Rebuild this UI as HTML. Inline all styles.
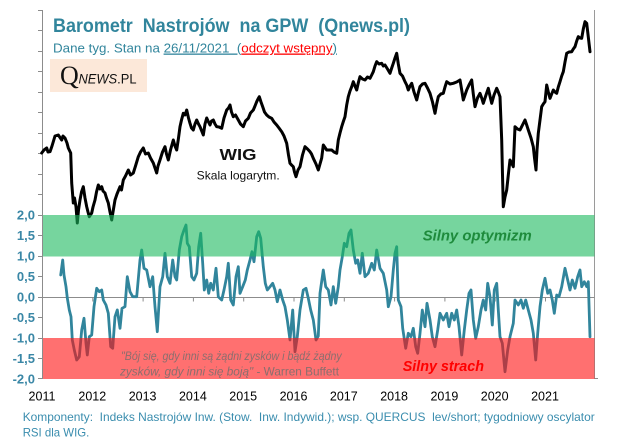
<!DOCTYPE html>
<html><head><meta charset="utf-8"><style>
html,body{margin:0;padding:0;background:#fff;}
svg{display:block;}
text{white-space:pre;}
</style></head><body>
<svg width="626" height="444" viewBox="0 0 626 444" xmlns="http://www.w3.org/2000/svg">
<rect width="626" height="444" fill="#fff"/>
<!-- axes -->
<line x1="42.5" y1="10" x2="42.5" y2="379" stroke="#8c8c8c" stroke-width="1"/>
<line x1="594.5" y1="10" x2="594.5" y2="379" stroke="#9a9a9a" stroke-width="1"/>
<g stroke="#8c8c8c" stroke-width="1">
<line x1="38" y1="10.5" x2="42.5" y2="10.5"/><line x1="38" y1="30.5" x2="42.5" y2="30.5"/>
<line x1="38" y1="51.5" x2="42.5" y2="51.5"/><line x1="38" y1="71.5" x2="42.5" y2="71.5"/>
<line x1="38" y1="92.5" x2="42.5" y2="92.5"/><line x1="38" y1="112.5" x2="42.5" y2="112.5"/>
<line x1="38" y1="133.5" x2="42.5" y2="133.5"/><line x1="38" y1="153.5" x2="42.5" y2="153.5"/>
<line x1="38" y1="174.5" x2="42.5" y2="174.5"/><line x1="38" y1="194.5" x2="42.5" y2="194.5"/>
<line x1="38" y1="215.5" x2="42.5" y2="215.5"/><line x1="38" y1="235.5" x2="42.5" y2="235.5"/>
<line x1="38" y1="256.5" x2="42.5" y2="256.5"/><line x1="38" y1="276.5" x2="42.5" y2="276.5"/>
<line x1="38" y1="297.5" x2="42.5" y2="297.5"/><line x1="38" y1="317.5" x2="42.5" y2="317.5"/>
<line x1="38" y1="338.5" x2="42.5" y2="338.5"/><line x1="38" y1="358.5" x2="42.5" y2="358.5"/>
<line x1="38" y1="378.5" x2="42.5" y2="378.5"/>
<line x1="594.5" y1="378.5" x2="598" y2="378.5"/>
</g>
<line x1="42.5" y1="297.5" x2="594.5" y2="297.5" stroke="#8c8c8c" stroke-width="1"/>
<g stroke="#8c8c8c" stroke-width="1">
<line x1="92.8" y1="297.5" x2="92.8" y2="301.5"/><line x1="143.1" y1="297.5" x2="143.1" y2="301.5"/>
<line x1="193.4" y1="297.5" x2="193.4" y2="301.5"/><line x1="243.7" y1="297.5" x2="243.7" y2="301.5"/>
<line x1="294" y1="297.5" x2="294" y2="301.5"/><line x1="344.3" y1="297.5" x2="344.3" y2="301.5"/>
<line x1="394.6" y1="297.5" x2="394.6" y2="301.5"/><line x1="444.9" y1="297.5" x2="444.9" y2="301.5"/>
<line x1="495.2" y1="297.5" x2="495.2" y2="301.5"/><line x1="545.5" y1="297.5" x2="545.5" y2="301.5"/>
</g>

<!-- WIG -->
<polyline fill="none" stroke="#000" stroke-width="3" stroke-linejoin="round" stroke-linecap="round" points="41.7,153 44,150 46.7,148 48,152 50,151.7 52,146 55,136 58.3,135 61.7,140 63,136 65,138 67,143 68.3,148 70.7,153 71.7,183 73.3,203 74.5,198 76,206.7 77.3,223 78.5,210 80,200 81.5,192 83.3,186.7 85,198 86.7,206.7 88,212 89.3,216.7 91.7,213 93,207 95,200 96.5,192 98.3,185 100,189 101.7,186.7 103,191 105,193 106.5,198 108.3,203 110,212 111.7,220 113,212 115,200 117,194 120,186.7 121.5,190 123.3,180 125.5,176 128.3,170 130.5,175 133.3,173 135.5,166 138.3,156.7 140.5,152 143.3,148 145.5,154 148.3,153 150.5,158 153.3,163 155,168 156.7,173 158,166 160,160 162.5,152 165,146.7 166.5,154 168.3,160 170.5,150 173.3,140 175,146 176.7,150 178.5,138 180,126.7 181.5,120 183.3,113.3 185,115 186.7,110 188.5,118 190,123.3 191.5,128 193.3,130 195,124 196.7,120 198.5,124 200,126.7 201.7,131 203.3,135 205,124 206.7,118 208.5,122 210,125 211.5,121 213.3,120 215,124 216.7,126.7 219,127 221.7,128.3 224,118 226.7,110 228.5,108 230,105 231.5,112 233.3,116.7 235.5,115 238.3,120 240.5,124 243.3,126.7 245.5,121 248.3,118.3 250.5,113 253.3,110 255,106 256.7,101.7 258,99 259.3,96.7 261,102 262.7,106.7 264.5,112 266.7,115 269,117 271.7,118.3 274,122 276.7,125 279,128 281.7,131.7 284,136 286.7,143.3 288.5,155 290,163.3 291.5,165 293.3,166.7 294.5,172 296,176.7 298,170 300,166.7 302.5,155 305,146.7 307.5,149 310,151.7 311.5,154 313.3,158.3 316,164 318.3,170 321.7,158 323.3,145 326.7,150 331.7,150 334,152 336.7,153.3 338.3,140 340,133 341.7,126.7 343.5,121 345,116.7 346.7,105 348.3,96.7 350,91 351.7,86.7 353.3,81.7 355,86 356.7,90 358.5,82 360,76.7 362.5,79 365,80 367.5,77 370,78.3 371.7,75 373.3,71.7 375,66 376.7,61.7 379,64 381.7,63.3 383.3,66 385,65 387.5,69 390,73.3 391.7,68 393.3,63.3 395,58 396.7,53.3 398.3,64 400,73.3 402.5,76 405,81.7 406.7,85 408.3,90 410,86 411.7,83.3 414,92 416.7,100 418.3,93 420,86.7 422.5,84 425,83.3 427.5,88 430,93.3 432.5,102 435,113.3 436.7,104 438.3,96.7 440.8,94 443.3,93.3 445,87 446.7,81.7 450,84 453.3,83.3 456.7,82 460,80 461.7,90 463.3,100 465,95 466.7,90 469,85 471.7,80 473.3,94 475,106.7 477.5,98 480,93.3 481.7,98 483.3,103.3 486,95 488.3,88.3 490,96 491.7,103.3 494,95 496.7,88.3 498.3,92 500,96.7 501.7,140 502.5,175 503.3,206.7 505,197 506.7,190 508.3,175 510,160 511.7,163 513.3,166.7 515,126.7 517.5,129 520,130 522.5,125 525,120 526.7,125 528.3,130 531,138 533.3,146.7 534.5,158 536,170 537,150 538.3,133.3 540,120 541.7,106.7 543.3,104 545,101.7 546.7,85 548.3,92 550,98.3 551.7,94 553.3,90 555,92 556.7,93.3 558.3,87 560,81.7 561.7,76 563.3,71.7 565,62 566.7,53.3 569,52 571.7,51.7 573.3,49 575,46.7 576.7,41 578.3,36.7 580,38 581.7,38.3 583.3,29 585,21.7 586.7,23.3 588.3,37 590,51.7"/>

<!-- oscillator -->
<polyline fill="none" stroke="#31859C" stroke-width="2.8" stroke-linejoin="round" stroke-linecap="round" points="60.7,275 62.7,260 64,275 66,286.7 67.3,298 69.3,310 71,316.7 72.3,340 74.3,350 76.7,360 79.3,356.7 81.7,330 84,318.3 86,343.3 87.3,355 89.3,336.7 91.7,335 94,306.7 96.7,288.3 99.3,291.7 101.7,290 103.3,300 106,305 108.3,313.3 110.7,346.7 112.7,348.3 115,316.7 117.3,310 120,328.3 122,308.3 125,306.7 127.3,276.7 130,291.7 132.7,296.7 136.7,296.7 140,260 141.7,250 144,268.3 146.7,270 150,286.7 152.7,276.7 155,306.7 157.3,331.7 160,286.7 162.7,276.7 165,253.3 167.3,276.7 170,283.3 172.7,260 175,276.7 176.7,280 179.3,250 181.7,236.7 184,230 186,225 187.3,243.3 189.3,246.7 191.7,276.7 194,280 196.7,273.3 198.7,246.7 200.7,233.3 202.7,263.3 204.3,290 206.7,280 208.7,293.3 210.7,283.3 213.3,290 216,268.3 218.3,296.7 221.7,300 224,290 226.7,276.7 228.3,263.3 230.7,300 233.3,305 236,276.7 238.3,266.7 240,293.3 242.7,286.7 245.3,280 247.3,270 250,260 252,251.7 254,261.7 256.7,236.7 258.7,231.7 260.7,238.3 263.3,266.7 265.3,283.3 267.3,290 270,286.7 272.7,283.3 275,290 277.3,301.7 280,290 282.7,300 285,306.7 287.3,320 290,340 292.7,310 295,351.7 297.3,336.7 300,310 303.3,290 306,288.3 308.3,298.3 310.7,310 313.3,320 316,340 318.3,336 320,293.3 323.3,270 325.7,286.7 328.3,290 331,305 333.3,286.7 335.7,303.3 338.3,286.7 340,270 342.3,256.7 344.3,243.3 346.7,246.7 349,233.3 351,230 353.3,250 355.7,263.3 357.7,260 360,273.3 362.3,253.3 365,276.7 368.3,273.3 371.7,263.3 374.3,270 376.7,250 380,268.3 383.3,273.3 386.7,290 388.3,306.7 391,296.7 393.3,270 395,253.3 396.7,246.7 398.3,300 401,306.7 402.7,328.3 405.7,348.3 408.3,333.3 411,336.7 413.3,328.3 415.7,346.7 417.7,353.3 420,333.3 422.3,310 425,326.7 427,303.3 430,320 432.3,336.7 435,346.7 437.7,330 440,313.3 443.3,320 446.7,313.3 449,326.7 451.7,313.3 454.3,320 456.7,310 459,326.7 461.7,355 464.3,330 466.7,310 469,293.3 471,290 473.3,320 475.7,338.3 478.3,326.7 481,310 483.3,300 485.7,310 487.7,283.3 490,296.7 492.3,325 494.3,290 496.7,283.3 498.3,310 500,336.7 502.3,343.3 505,371.7 507.7,350 510,336.7 513.3,323.3 515,300 518.3,305 521,300 523.3,308.3 525.7,300 528.3,310 531,320 533.3,333.3 535.7,360 537.7,333.3 540,306.7 542.3,290 545,278.3 547.7,293.3 550,290 552.3,300 554.3,313.3 556.7,295 559,296.7 561.7,286.7 565,268.3 567.7,280 570,290 572.3,280 575,288.3 577.7,276.7 580,270 581.7,286.7 584.3,281.7 586.7,286.7 588.3,281.7 590,336.7"/>

<!-- bands (semi-transparent overlays) -->
<rect x="43" y="215" width="551.5" height="41.5" fill="rgb(27,185,93)" fill-opacity="0.6"/>
<rect x="43" y="338" width="551.5" height="41" fill="rgb(255,17,17)" fill-opacity="0.6"/>

<!-- y labels -->
<g font-family="Liberation Sans, sans-serif" font-size="13" font-weight="bold" fill="#3A87A6" text-anchor="end">
<text x="35" y="219.5">2,0</text>
<text x="35" y="240">1,5</text>
<text x="35" y="260.5">1,0</text>
<text x="35" y="281">0,5</text>
<text x="35" y="301.5">0,0</text>
<text x="35" y="322">-0,5</text>
<text x="35" y="342.5">-1,0</text>
<text x="35" y="363">-1,5</text>
<text x="35" y="383.5">-2,0</text>
</g>

<!-- x labels -->
<g font-family="Liberation Sans, sans-serif" font-size="12.5" fill="#000" text-anchor="middle">
<text x="42" y="400.7">2011</text>
<text x="92.3" y="400.7">2012</text>
<text x="142.6" y="400.7">2013</text>
<text x="192.9" y="400.7">2014</text>
<text x="243.2" y="400.7">2015</text>
<text x="293.5" y="400.7">2016</text>
<text x="343.8" y="400.7">2017</text>
<text x="394.1" y="400.7">2018</text>
<text x="444.4" y="400.7">2019</text>
<text x="494.7" y="400.7">2020</text>
<text x="545" y="400.7">2021</text>
</g>

<!-- title -->
<text x="53" y="32" font-family="Liberation Sans, sans-serif" font-size="19" font-weight="bold" fill="#31859C" textLength="357" lengthAdjust="spacingAndGlyphs">Barometr  Nastrojów  na GPW  (Qnews.pl)</text>
<text x="53" y="52.5" font-family="Liberation Sans, sans-serif" font-size="13" fill="#31859C" textLength="284" lengthAdjust="spacingAndGlyphs">Dane tyg. Stan na <tspan text-decoration="underline">26/11/2021  (</tspan><tspan fill="#FF0000" text-decoration="underline">odczyt wstępny</tspan><tspan text-decoration="underline">)</tspan></text>

<!-- logo -->
<rect x="50" y="59" width="97" height="33" fill="#FCE8D9"/>
<text x="60" y="84" font-family="Liberation Serif, serif" font-size="26" fill="#111">Q</text>
<text x="78.5" y="83.5" font-family="Liberation Sans, sans-serif" font-size="14" fill="#111" textLength="58" lengthAdjust="spacingAndGlyphs"><tspan font-style="italic">NEWS</tspan>.PL</text>

<!-- WIG label -->
<text x="219.5" y="160" font-family="Liberation Sans, sans-serif" font-size="16" font-weight="bold" fill="#111" textLength="37" lengthAdjust="spacingAndGlyphs">WIG</text>
<text x="196.7" y="179.3" font-family="Liberation Sans, sans-serif" font-size="12" fill="#111" textLength="83" lengthAdjust="spacingAndGlyphs">Skala logarytm.</text>

<!-- band labels -->
<text x="422.7" y="240.7" font-family="Liberation Sans, sans-serif" font-size="15" font-weight="bold" font-style="italic" fill="#1E8B3C" textLength="109" lengthAdjust="spacingAndGlyphs">Silny optymizm</text>
<text x="402.7" y="371" font-family="Liberation Sans, sans-serif" font-size="15" font-weight="bold" font-style="italic" fill="#FF0000" textLength="81.3" lengthAdjust="spacingAndGlyphs">Silny strach</text>

<!-- quote -->
<g font-family="Liberation Sans, sans-serif" font-size="12" fill="#6e6e6e" fill-opacity="0.8">
<text x="121" y="360" font-style="italic" textLength="220.7" lengthAdjust="spacingAndGlyphs">"Bój się, gdy inni są żądni zysków i bądź żądny</text>
<text x="120" y="375.7" textLength="219" lengthAdjust="spacingAndGlyphs"><tspan font-style="italic">zysków, gdy inni się boją"</tspan> - Warren Buffett</text>
</g>

<!-- footer -->
<g font-family="Liberation Sans, sans-serif" font-size="12" fill="#3A8DAE">
<text x="22.7" y="421" textLength="572" lengthAdjust="spacingAndGlyphs">Komponenty:  Indeks Nastrojów Inw. (Stow.  Inw. Indywid.); wsp. QUERCUS  lev/short; tygodniowy oscylator</text>
<text x="22.7" y="436.5" textLength="66.6" lengthAdjust="spacingAndGlyphs">RSI dla WIG.</text>
</g>
</svg>
</body></html>
